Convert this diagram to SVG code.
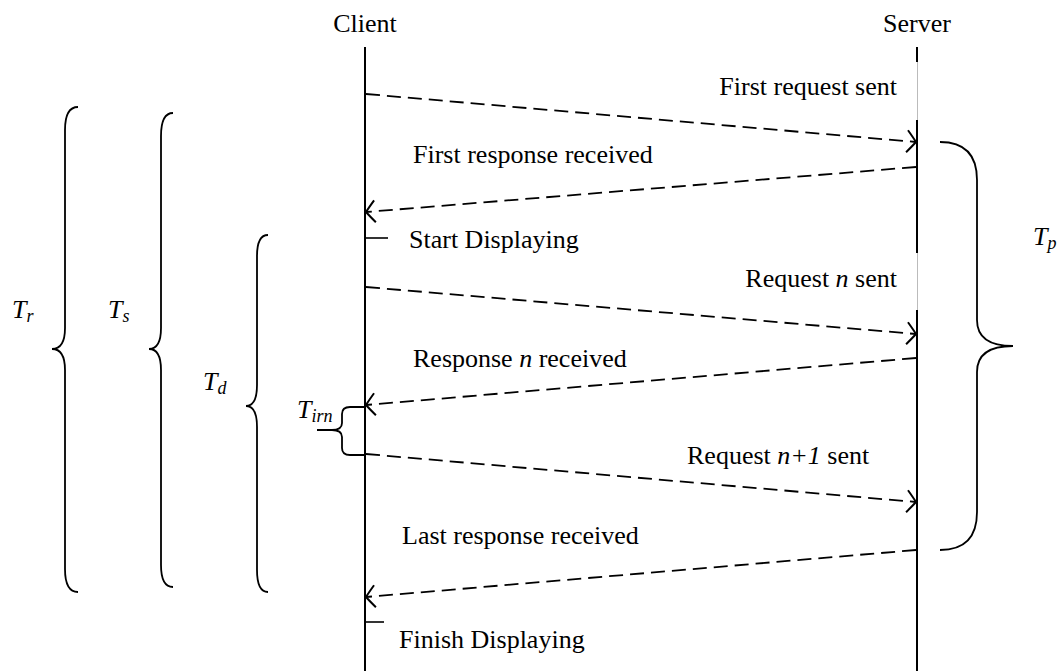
<svg xmlns="http://www.w3.org/2000/svg" width="1057" height="671" viewBox="0 0 1057 671">
<defs>
<style>
text{font-family:"Liberation Serif","Times New Roman",serif;font-size:26px;fill:#000}
.it{font-style:italic}
.sub{font-size:18px;font-style:italic}
.life{stroke:#000;stroke-width:2;fill:none}
.faint{stroke:#bbb;stroke-width:1;fill:none}
.msg{stroke:#000;stroke-width:1.8;stroke-dasharray:14 7;fill:none;marker-end:url(#ah)}
.brace{stroke:#000;stroke-width:1.8;fill:none}
.tick{stroke:#000;stroke-width:1.6}
</style>
<marker id="ah" markerUnits="userSpaceOnUse" viewBox="-12 -13 14 26" refX="0" refY="0" markerWidth="14" markerHeight="26" orient="auto" overflow="visible">
<path d="M-9,-11 Q-3,-4 0,0 Q-3,4 -9,11" fill="none" stroke="#000" stroke-width="2" stroke-dasharray="none"/>
</marker>
</defs>
<g id="client">
<text x="365" y="32" text-anchor="middle">Client</text>
<line class="life" x1="365" y1="47" x2="365" y2="671"/>
</g>
<g id="server">
<text x="917" y="32" text-anchor="middle">Server</text>
<line class="life" x1="917" y1="47" x2="917" y2="62"/>
<line class="faint" x1="917.5" y1="62" x2="917.5" y2="120"/>
<line class="life" x1="917" y1="120" x2="917" y2="253"/>
<line class="faint" x1="917.5" y1="253" x2="917.5" y2="310"/>
<line class="life" x1="917" y1="310" x2="917" y2="671"/>
</g>
<g id="connectors">
<line class="msg" x1="366" y1="94" x2="916" y2="142"/>
<line class="msg" x1="916" y1="167" x2="366" y2="212"/>
<line class="msg" x1="366" y1="287" x2="916" y2="334"/>
<line class="msg" x1="916" y1="358" x2="366" y2="405"/>
<line class="msg" x1="366" y1="454" x2="916" y2="502"/>
<line class="msg" x1="916" y1="550" x2="366" y2="597"/>
</g>
<g id="labels">
<text x="897" y="95" text-anchor="end">First request sent</text>
<text x="413" y="163">First response received</text>
<g id="start"><line class="tick" x1="365" y1="238" x2="388" y2="238"/><text x="409" y="248">Start Displaying</text></g>
<text x="897" y="287" text-anchor="end">Request <tspan class="it">n</tspan> sent</text>
<text x="413" y="367">Response <tspan class="it">n</tspan> received</text>
<text x="687" y="464">Request <tspan class="it">n+1</tspan> sent</text>
<text x="402" y="544">Last response received</text>
<g id="finish"><line class="tick" x1="365" y1="622" x2="384" y2="622"/><text x="399" y="648">Finish Displaying</text></g>
</g>
<g id="Tr">
<path class="brace" d="M78,107 Q65,107 65,130 L65,328 Q65,349 52,349 Q65,349 65,370 L65,569 Q65,592 78,592"/>
<text x="12" y="318"><tspan class="it">T</tspan><tspan class="sub" dy="4">r</tspan></text>
</g>
<g id="Ts">
<path class="brace" d="M173,113 Q161,113 161,136 L161,328 Q161,349 149,349 Q161,349 161,370 L161,565 Q161,587 173,587"/>
<text x="108" y="318"><tspan class="it">T</tspan><tspan class="sub" dy="4">s</tspan></text>
</g>
<g id="Td">
<path class="brace" d="M268,235 Q257,235 257,256 L257,385 Q257,406 246,406 Q257,406 257,427 L257,570 Q257,592 268,592"/>
<text x="203" y="390"><tspan class="it">T</tspan><tspan class="sub" dy="4">d</tspan></text>
</g>
<g id="Tp">
<path class="brace" d="M940,142 Q977,142 977,180 L977,320 Q977,346 1013,346 Q977,346 977,372 L977,512 Q977,550 940,550"/>
<text x="1033" y="245"><tspan class="it">T</tspan><tspan class="sub" dy="4">p</tspan></text>
</g>
<g id="Tirn">
<path class="brace" d="M365,407 L350,407 Q342,407 342,414 L342,423 Q342,430 332,430 L317,430 M332,430 Q342,430 342,437 L342,448 Q342,455 350,455 L365,455"/>
<text x="297" y="418"><tspan class="it">T</tspan><tspan class="sub" dy="4">irn</tspan></text>
</g>
</svg>
